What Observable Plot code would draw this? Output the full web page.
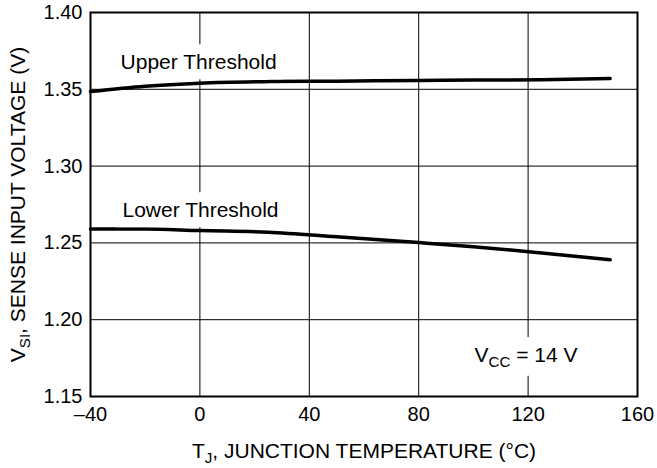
<!DOCTYPE html>
<html>
<head>
<meta charset="utf-8">
<script src="https://cdn.jsdelivr.net/npm/d3@7"></script>
<script src="https://cdn.jsdelivr.net/npm/@observablehq/plot@0.6"></script>
<style>
  html, body { margin: 0; padding: 0; background: #fff; }
  svg { font-family: "Liberation Sans", Arial, sans-serif; }
</style>
</head>
<body>
<div id="chart"></div>
<script>
// Junction temperature (°C)
const temps = [-40, -20, 0, 25, 50, 80, 100, 125, 150];
// Sense input voltage thresholds (V)
const upperThreshold = [1.3485, 1.352, 1.354, 1.355, 1.3553, 1.3558, 1.356, 1.3562, 1.357];
const lowerThreshold = [1.259, 1.259, 1.258, 1.257, 1.254, 1.2502, 1.2475, 1.2435, 1.239];

const xTicks = [-40, 0, 40, 80, 120, 160];
const yTicks = [1.15, 1.20, 1.25, 1.30, 1.35, 1.40];

// Annotations (data coordinates)
const labelText = ["Upper Threshold", "Lower Threshold", "V_{CC} = 14 V"];
const labelX = [-29, -28.3, 100.4];
const labelY = [1.3674, 1.2711, 1.1767];

const xLabel = "T_{J}, JUNCTION TEMPERATURE (°C)";
const yLabel = "V_{SI}, SENSE INPUT VOLTAGE (V)";

const upper = temps.map((t, i) => ({t, v: upperThreshold[i]}));
const lower = temps.map((t, i) => ({t, v: lowerThreshold[i]}));
const labels = labelText.map((s, i) => ({s, x: labelX[i], y: labelY[i]}));

const chart = Plot.plot({
  width: 657,
  height: 468,
  marginTop: 12,
  marginBottom: 72,
  marginLeft: 90,
  marginRight: 20,
  style: {fontFamily: "'Liberation Sans', Arial, sans-serif", fontSize: "20px", background: "#fff", color: "#000"},
  x: {domain: [-40, 160], ticks: xTicks},
  y: {domain: [1.15, 1.40], ticks: yTicks},
  marks: [
    Plot.gridX(xTicks.slice(1, -1), {stroke: "#000", strokeOpacity: 1, strokeWidth: 1}),
    Plot.gridY(yTicks.slice(1, -1), {stroke: "#000", strokeOpacity: 1, strokeWidth: 1}),
    Plot.axisX(xTicks, {tickSize: 0, tickPadding: 10, fontSize: 20, label: null,
      tickFormat: d => d < 0 ? "\u2013" + Math.abs(d) : String(d)}),
    Plot.axisY(yTicks, {tickSize: 0, tickPadding: 8, fontSize: 20, label: null,
      tickFormat: d3.format(".2f")}),
    Plot.line(upper, {x: "t", y: "v", stroke: "#000", strokeWidth: 3.5, curve: "monotone-x"}),
    Plot.line(lower, {x: "t", y: "v", stroke: "#000", strokeWidth: 3.5, curve: "monotone-x"}),
    Plot.text(labels, {x: "x", y: "y", text: "s", textAnchor: "start", fontSize: 21, fill: "#000"}),
    Plot.text([xLabel], {frameAnchor: "bottom", dy: 55, textAnchor: "middle", lineAnchor: "middle", fontSize: 21, fill: "#000"}),
    Plot.text([yLabel], {frameAnchor: "left", dx: -72, rotate: -90, textAnchor: "middle", lineAnchor: "middle", fontSize: 21, fill: "#000"}),
    Plot.frame({stroke: "#000", strokeWidth: 2})
  ]
});

document.getElementById("chart").appendChild(chart);

const svg = d3.select(chart);

// Find annotation text elements (before subscript conversion)
const annotEls = [];
svg.selectAll("text").each(function() {
  if (labelText.includes(this.textContent)) annotEls.push(this);
});

// Render subscripts written as _{...}
svg.selectAll("text").each(function() {
  const el = this;
  const s = el.textContent;
  if (!s.includes("_{")) return;
  const parts = s.split(/(_\{[^}]*\})/).filter(p => p.length);
  while (el.firstChild) el.removeChild(el.firstChild);
  let shifted = false;
  parts.forEach(p => {
    const ts = document.createElementNS("http://www.w3.org/2000/svg", "tspan");
    if (p.startsWith("_{")) {
      ts.textContent = p.slice(2, -1);
      ts.setAttribute("font-size", "0.72em");
      ts.setAttribute("dy", "0.3em");
      shifted = true;
    } else {
      ts.textContent = p;
      if (shifted) { ts.setAttribute("dy", "-0.22em"); shifted = false; }
    }
    el.appendChild(ts);
  });
});

// White boxes behind annotations
annotEls.forEach(el => {
  const b = el.getBBox();
  const padX = 6, padY = 6;
  const r = d3.select(el.parentNode).insert("rect", () => el)
    .attr("x", b.x - padX).attr("y", b.y - padY)
    .attr("width", b.width + 2 * padX).attr("height", b.height + 2 * padY)
    .attr("fill", "#fff");
  const tf = el.getAttribute("transform");
  if (tf) r.attr("transform", tf);
});
</script>
</body>
</html>
